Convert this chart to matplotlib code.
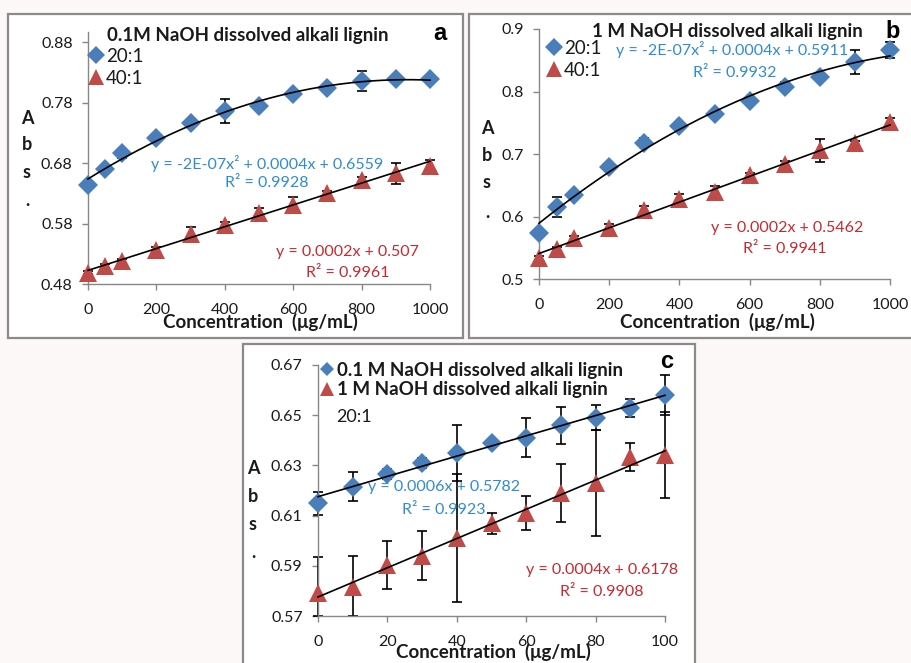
import numpy as np
import matplotlib
matplotlib.use('Agg')
import matplotlib.pyplot as plt
from matplotlib.lines import Line2D
from matplotlib.patches import Rectangle

plt.rcParams['font.family'] = ['Lato', 'DejaVu Sans']

W, H = 911, 663

# data
conc_ab = [0, 50, 100, 200, 300, 400, 500, 600, 700, 800, 900, 1000]
a_20 = [0.644, 0.670, 0.696, 0.722, 0.747, 0.766, 0.775, 0.794, 0.805, 0.816, 0.819, 0.819]
a_20_err = [0.005, 0.004, 0.008, 0.004, 0.005, 0.020, 0.004, 0.004, 0.004, 0.016, 0.004, 0.003]
a_40 = [0.499, 0.510, 0.518, 0.537, 0.562, 0.578, 0.597, 0.611, 0.630, 0.652, 0.663, 0.676]
a_40_err = [0.003, 0.003, 0.004, 0.005, 0.012, 0.004, 0.008, 0.013, 0.004, 0.005, 0.017, 0.010]

b_20 = [0.574, 0.615, 0.635, 0.679, 0.718, 0.745, 0.764, 0.785, 0.808, 0.824, 0.847, 0.866]
b_20_err = [0.003, 0.016, 0.004, 0.006, 0.007, 0.004, 0.005, 0.004, 0.007, 0.003, 0.019, 0.013]
b_40 = [0.534, 0.548, 0.565, 0.582, 0.611, 0.628, 0.639, 0.666, 0.684, 0.706, 0.717, 0.751]
b_40_err = [0.003, 0.003, 0.004, 0.006, 0.006, 0.008, 0.010, 0.004, 0.005, 0.018, 0.004, 0.007]

conc_c = [0, 10, 20, 30, 40, 50, 60, 70, 80, 90, 100]
c_01 = [0.615, 0.6215, 0.6266, 0.631, 0.635, 0.639, 0.641, 0.646, 0.649, 0.653, 0.658]
c_01_err = [0.0046, 0.0058, 0.002, 0.002, 0.0112, 0.001, 0.0078, 0.0074, 0.005, 0.0036, 0.008]
c_1 = [0.579, 0.5817, 0.5903, 0.594, 0.601, 0.607, 0.611, 0.619, 0.623, 0.6335, 0.634]
c_1_err_lo = [0.009, 0.0117, 0.0096, 0.0098, 0.0256, 0.0042, 0.0068, 0.0114, 0.0213, 0.0056, 0.0171]
c_1_err_hi = [0.0146, 0.0122, 0.0096, 0.0098, 0.0256, 0.0042, 0.0068, 0.0114, 0.0213, 0.0056, 0.0171]

ticks_ab_x = [0, 200, 400, 600, 800, 1000]
ticks_a_y = [0.48, 0.58, 0.68, 0.78, 0.88]
labels_a_y = ['0.48', '0.58', '0.68', '0.78', '0.88']
ticks_b_y = [0.5, 0.6, 0.7, 0.8, 0.9]
labels_b_y = ['0.5', '0.6', '0.7', '0.8', '0.9']
ticks_c_x = [0, 20, 40, 60, 80, 100]
ticks_c_y = [0.57, 0.59, 0.61, 0.63, 0.65, 0.67]
labels_c_y = ['0.57', '0.59', '0.61', '0.63', '0.65', '0.67']

BLUE = '#4a7ebb'
RED = '#be4b48'
EQ_BLUE = '#2f8ccf'
EQ_RED = '#c8282f'
AXC = '#878787'
TXT = '#1a1a1a'
EQ_FS = 11.5


def fx(x):
    return x / W


def fy(y):
    return 1 - y / H


def rect(x0, y0, x1, y1):
    return [x0 / W, 1 - y1 / H, (x1 - x0) / W, (y1 - y0) / H]


def frame(fig, x0, y0, x1, y1):
    fig.patches.append(Rectangle((fx(x0), fy(y1)), (x1 - x0) / W, (y1 - y0) / H,
                                 transform=fig.transFigure, facecolor='white',
                                 edgecolor='#8a8a8a', lw=1.6, zorder=-5))


def style_axes(ax):
    ax.set_facecolor('none')
    for s in ['top', 'right']:
        ax.spines[s].set_visible(False)
    for s in ['left', 'bottom']:
        ax.spines[s].set_color(AXC)
        ax.spines[s].set_linewidth(1.0)
    ax.tick_params(direction='out', length=4, width=1, color=AXC,
                   labelsize=11.5, labelcolor=TXT)
    ax.tick_params(axis='x', pad=10)
    ax.tick_params(axis='y', pad=7)


def series(ax, x, y, err, marker, color, ms, deg):
    # error bars under the markers, trendline on top
    ax.errorbar(x, y, yerr=err, fmt='none', ecolor='black', elinewidth=1.2,
                capsize=3.5, capthick=1.2, zorder=2, clip_on=False)
    ax.plot(x, y, ls='none', marker=marker, color=color, ms=ms,
            markeredgewidth=0, zorder=3, clip_on=False)
    coef = np.polyfit(x, y, deg)
    xx = np.linspace(min(x), max(x), 200)
    ax.plot(xx, np.polyval(coef, xx), color='black', lw=1.2, zorder=4, clip_on=False)


def abs_label(fig, x, ys):
    for ch, y in zip(['A', 'b', 's', '.'], ys):
        fig.text(fx(x), fy(y), ch, ha='center', va='center', fontsize=13,
                 fontweight='bold', color=TXT)


def legend(ax, fig, handles, x, y, spacing, fs):
    leg = ax.legend(handles=handles, loc='upper left', bbox_to_anchor=(fx(x), fy(y)),
                    bbox_transform=fig.transFigure, frameon=False, borderpad=0,
                    borderaxespad=0, handlelength=0.9, handletextpad=0.05,
                    labelspacing=spacing, fontsize=fs)
    for t in leg.get_texts():
        t.set_color(TXT)
    return leg


def eq(fig, x, y, s, color):
    fig.text(fx(x), fy(y), s, ha='center', va='center', fontsize=EQ_FS, color=color)


fig = plt.figure(figsize=(W / 100, H / 100), dpi=100)
fig.patch.set_facecolor('#fcf8f8')

# panel frames
frame(fig, 8, 14, 463, 338)
frame(fig, 469, 14, 920, 338)
frame(fig, 243, 344, 695, 680)

# ---- panel a
ax = fig.add_axes(rect(88, 32, 430, 284))
style_axes(ax)
series(ax, conc_ab, a_20, a_20_err, 'D', BLUE, 10, 2)
series(ax, conc_ab, a_40, a_40_err, '^', RED, 12.5, 1)
ax.set_xlim(0, 1000)
ax.set_ylim(0.48, 0.897)
ax.set_xticks(ticks_ab_x)
ax.set_yticks(ticks_a_y, labels_a_y)
legend(ax, fig, [Line2D([], [], marker='D', color=BLUE, ls='none', ms=9, mew=0, label='20:1'),
                 Line2D([], [], marker='^', color=RED, ls='none', ms=11, mew=0, label='40:1')],
       88, 48, 0.25, 13.5)
fig.text(fx(248), fy(35), '0.1M NaOH dissolved alkali lignin', ha='center', va='center',
         fontsize=13.5, fontweight='bold', color=TXT)
fig.text(fx(440), fy(33), 'a', ha='center', va='center', fontsize=17,
         fontweight='bold', family='Liberation Sans')
eq(fig, 267, 163, 'y = -2E-07x² + 0.0004x + 0.6559', EQ_BLUE)
eq(fig, 267, 183, 'R² = 0.9928', EQ_BLUE)
eq(fig, 347, 252, 'y = 0.0002x + 0.507', EQ_RED)
eq(fig, 348, 273, 'R² = 0.9961', EQ_RED)
fig.text(fx(260), fy(322), 'Concentration  (μg/mL)', ha='center', va='center', fontsize=13.5,
         fontweight='bold', color=TXT)
abs_label(fig, 27, [118, 145, 173, 200])

# ---- panel b
ax = fig.add_axes(rect(539, 29, 890, 279))
style_axes(ax)
series(ax, conc_ab, b_20, b_20_err, 'D', BLUE, 10, 2)
series(ax, conc_ab, b_40, b_40_err, '^', RED, 12.5, 1)
ax.set_xlim(0, 1000)
ax.set_ylim(0.5, 0.9)
ax.set_xticks(ticks_ab_x)
ax.set_yticks(ticks_b_y, labels_b_y)
legend(ax, fig, [Line2D([], [], marker='D', color=BLUE, ls='none', ms=9, mew=0, label='20:1'),
                 Line2D([], [], marker='^', color=RED, ls='none', ms=11, mew=0, label='40:1')],
       546, 40, 0.25, 13.5)
fig.text(fx(727), fy(32), '1 M NaOH dissolved alkali lignin', ha='center', va='center',
         fontsize=13.5, fontweight='bold', color=TXT)
fig.text(fx(893), fy(32), 'b', ha='center', va='center', fontsize=17,
         fontweight='bold', family='Liberation Sans')
eq(fig, 732, 50, 'y = -2E-07x² + 0.0004x + 0.5911', EQ_BLUE)
eq(fig, 735, 73, 'R² = 0.9932', EQ_BLUE)
eq(fig, 787, 228, 'y = 0.0002x + 0.5462', EQ_RED)
eq(fig, 785, 249, 'R² = 0.9941', EQ_RED)
fig.text(fx(717), fy(322), 'Concentration  (μg/mL)', ha='center', va='center', fontsize=13.5,
         fontweight='bold', color=TXT)
abs_label(fig, 487, [128, 155, 183, 212])

# ---- panel c
ax = fig.add_axes(rect(318, 365, 665, 616))
style_axes(ax)
series(ax, conc_c, c_01, c_01_err, 'D', BLUE, 10, 1)
series(ax, conc_c, c_1, [c_1_err_lo, c_1_err_hi], '^', RED, 12.5, 1)
ax.set_xlim(0, 100)
ax.set_ylim(0.57, 0.67)
ax.set_xticks(ticks_c_x)
ax.set_yticks(ticks_c_y, labels_c_y)
leg = legend(ax, fig, [Line2D([], [], marker='D', color=BLUE, ls='none', ms=7.5, mew=0,
                              label='0.1 M NaOH dissolved alkali lignin'),
                       Line2D([], [], marker='^', color=RED, ls='none', ms=10, mew=0,
                              label='1 M NaOH dissolved alkali lignin')],
             319, 362, 0.12, 13.5)
for t in leg.get_texts():
    t.set_fontweight('bold')
fig.text(fx(336), fy(417), '20:1', ha='left', va='center', fontsize=13, color=TXT)
fig.text(fx(667), fy(362), 'c', ha='center', va='center', fontsize=17,
         fontweight='bold', family='Liberation Sans')
eq(fig, 444, 487, 'y = 0.0006x + 0.5782', EQ_BLUE)
eq(fig, 444, 510, 'R² = 0.9923', EQ_BLUE)
eq(fig, 602, 570, 'y = 0.0004x + 0.6178', EQ_RED)
eq(fig, 602, 592, 'R² = 0.9908', EQ_RED)
fig.text(fx(493), fy(652), 'Concentration  (μg/mL)', ha='center', va='center', fontsize=13.5,
         fontweight='bold', color=TXT)
abs_label(fig, 253, [468, 497, 525, 553])

fig.savefig('out.png', dpi=100, facecolor=fig.get_facecolor())
